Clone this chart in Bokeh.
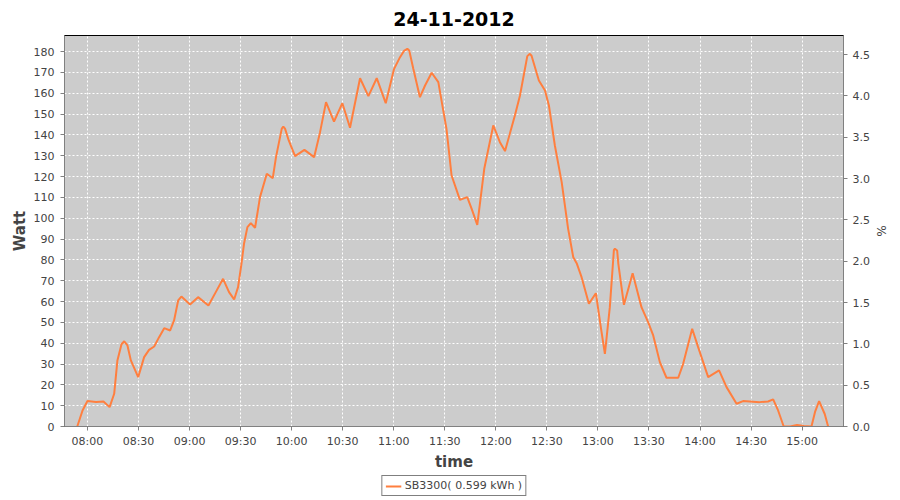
import pandas as pd
from bokeh.plotting import figure
from bokeh.layouts import column
from bokeh.models import (Range1d, LinearAxis, FixedTicker, DatetimeTickFormatter,
                          Legend, LegendItem, NumeralTickFormatter)
from bokeh.embed import file_html
from bokeh.resources import INLINE

day = "2012-11-24"
title_text = "24-11-2012"
series_label = "SB3300( 0.599 kWh )"

times = ["07:54:00", "07:57:06", "08:00:00", "08:05:00", "08:09:24", "08:13:00", "08:15:42",
         "08:17:36", "08:20:00", "08:21:36", "08:23:30", "08:25:30", "08:29:48", "08:33:18",
         "08:36:12", "08:39:12", "08:42:06", "08:45:06", "08:48:36", "08:50:54", "08:53:18",
         "08:55:12", "09:00:18", "09:05:00", "09:11:06", "09:15:24", "09:19:42", "09:23:12",
         "09:26:12", "09:28:30", "09:30:30", "09:32:00", "09:34:00", "09:36:00", "09:38:30",
         "09:41:24", "09:45:24", "09:48:54", "09:50:48", "09:54:12", "09:55:06", "09:56:06",
         "09:58:18", "10:02:00", "10:07:30", "10:13:12", "10:16:42", "10:20:12", "10:24:54",
         "10:29:48", "10:34:18", "10:40:12", "10:45:06", "10:50:00", "10:55:18", "11:00:12",
         "11:03:42", "11:06:00", "11:08:00", "11:09:06", "11:11:30", "11:15:24", "11:18:24",
         "11:22:18", "11:26:12", "11:31:00", "11:34:00", "11:38:54", "11:43:12", "11:45:48",
         "11:49:06", "11:53:12", "11:58:30", "12:02:24", "12:05:24", "12:11:12", "12:14:12",
         "12:18:30", "12:20:00", "12:21:00", "12:25:18", "12:28:54", "12:31:12", "12:34:42",
         "12:38:42", "12:42:30", "12:45:30", "12:47:30", "12:50:24", "12:54:42", "12:58:48",
         "13:01:42", "13:04:06", "13:07:00", "13:09:24", "13:10:00", "13:11:18", "13:12:00",
         "13:15:18", "13:20:24", "13:25:36", "13:29:30", "13:32:30", "13:36:24", "13:40:18",
         "13:47:12", "13:50:06", "13:55:24", "13:58:54", "14:04:48", "14:11:12", "14:15:36",
         "14:21:30", "14:25:18", "14:35:00", "14:40:00", "14:43:00", "14:45:54", "14:49:12",
         "14:53:00", "14:57:00", "15:01:00", "15:05:30", "15:07:36", "15:10:00", "15:13:18",
         "15:15:18"]

watts = [0.0, 7.7, 12.2, 11.8, 12.0, 9.3, 15.7,
         31.7, 39.5, 40.9, 38.9, 31.7, 23.7, 33.3,
         36.8, 38.4, 42.9, 47.2, 46.1, 50.9, 60.5,
         62.4, 58.6, 62.1, 58.1, 64.5, 70.9, 64.5,
         61.0, 66.9, 78.1, 87.7, 95.7, 97.6, 95.4,
         110.1, 121.3, 119.2, 129.3, 143.0, 144.0, 143.0,
         137.3, 129.8, 132.8, 129.3, 141.3, 155.7, 146.4,
         155.2, 143.4, 167.2, 158.6, 167.2, 155.2, 171.7,
         177.3, 180.3, 181.3, 180.5, 171.7, 158.1, 163.7,
         169.8, 165.3, 142.9, 120.5, 108.8, 110.1, 104.5,
         96.8, 123.7, 144.5, 136.5, 132.2, 149.3, 158.9,
         177.8, 178.9, 178.0, 166.1, 161.3, 154.1, 134.9,
         117.3, 94.9, 81.3, 78.4, 71.7, 58.9, 64.0,
         47.7, 34.9, 57.3, 84.8, 85.3, 84.5, 78.1,
         58.4, 73.6, 57.3, 50.1, 43.7, 30.9, 23.4,
         23.4, 30.1, 46.9, 38.1, 23.7, 26.9, 18.9,
         10.9, 12.2, 11.7, 12.0, 13.0, 7.7, 0.0,
         0.0, 0.7, 0.3, 0.0, 7.0, 12.2, 6.0,
         0.0]

xtick_labels = ["08:00", "08:30", "09:00", "09:30", "10:00", "10:30", "11:00", "11:30",
                "12:00", "12:30", "13:00", "13:30", "14:00", "14:30", "15:00"]
watt_ticks = [0, 10, 20, 30, 40, 50, 60, 70, 80, 90, 100, 110, 120, 130, 140, 150, 160, 170, 180]
pct_ticks = [0.0, 0.5, 1.0, 1.5, 2.0, 2.5, 3.0, 3.5, 4.0, 4.5]
x_start, x_end = "07:46:30", "15:24:20"
watt_max = 187.7
pct_max = 4.73

def ts(t):
    return pd.Timestamp(f"{day} {t}")

x = [ts(t) for t in times]
xt_ms = [ts(t).value // 10**6 for t in xtick_labels]

FONT = "DejaVu Sans"
LABEL_COL = "#444444"
AXIS_COL = "#808080"
LINE_COL = "#ff7f3f"

p = figure(frame_width=779, frame_height=391, x_axis_type="datetime",
           x_range=Range1d(ts(x_start), ts(x_end)), y_range=Range1d(0, watt_max),
           output_backend="svg", toolbar_location=None,
           min_border_left=64, min_border_right=56, min_border_top=35, min_border_bottom=44)

p.background_fill_color = "#cccccc"
p.border_fill_color = "white"
p.outline_line_color = "black"
p.outline_line_width = 1

p.title.text = title_text
p.title.align = "center"
p.title.text_font = FONT
p.title.text_font_size = "19px"
p.title.text_font_style = "bold"
p.title.text_color = "black"
p.title.standoff = 19

p.line(x, watts, line_color=LINE_COL, line_width=2)

p.extra_y_ranges = {"pct": Range1d(0, pct_max)}
raxis = LinearAxis(y_range_name="pct")
p.add_layout(raxis, "right")

for ax in [p.xaxis[0], p.yaxis[0], raxis]:
    ax.axis_line_color = AXIS_COL
    ax.major_tick_line_color = AXIS_COL
    ax.major_tick_in = 0
    ax.major_tick_out = 4
    ax.minor_tick_line_color = None
    ax.major_label_text_font = FONT
    ax.major_label_text_font_size = "11px"
    ax.major_label_text_color = LABEL_COL
    ax.axis_label_text_font = FONT
    ax.axis_label_text_color = LABEL_COL

p.xaxis.ticker = FixedTicker(ticks=xt_ms)
p.xaxis.formatter = DatetimeTickFormatter(minsec="%H:%M", minutes="%H:%M", hourmin="%H:%M",
                                          hours="%H:%M", days="%H:%M")
p.xaxis.axis_label = "time"
p.xaxis.axis_label_text_font_size = "15px"
p.xaxis.axis_label_text_font_style = "bold"
p.xaxis.major_label_standoff = 4
p.xaxis.axis_label_standoff = 2

p.yaxis[0].ticker = FixedTicker(ticks=watt_ticks)
p.yaxis[0].axis_label = "Watt"
p.yaxis[0].axis_label_text_font_size = "15px"
p.yaxis[0].axis_label_text_font_style = "bold"
p.yaxis[0].major_label_standoff = 6
p.yaxis[0].axis_label_standoff = 2

raxis.ticker = FixedTicker(ticks=pct_ticks)
raxis.formatter = NumeralTickFormatter(format="0.0")
raxis.axis_label = "%"
raxis.axis_label_text_font_size = "12px"
raxis.axis_label_text_font_style = "normal"
raxis.major_label_standoff = 5
raxis.axis_label_standoff = 1

p.xgrid.grid_line_color = "white"
p.xgrid.grid_line_dash = "2 2"
p.ygrid.grid_line_color = "white"
p.ygrid.grid_line_dash = "2 2"

# separate strip for the legend below the chart (series drawn out of its view range)
lg = figure(width=899, height=24, x_range=Range1d(0, 1), y_range=Range1d(0, 1),
            x_axis_location=None, y_axis_location=None,
            output_backend="svg", toolbar_location=None, min_border=0)
lg.outline_line_color = None
lg.xgrid.visible = False
lg.ygrid.visible = False
lg.background_fill_color = "white"
lg.border_fill_color = "white"
r2 = lg.line(x, watts, line_color=LINE_COL, line_width=2)

legend = Legend(items=[LegendItem(label=series_label, renderers=[r2])],
                orientation="horizontal", location="top_center",
                border_line_color="black", border_line_width=1,
                background_fill_color="white", background_fill_alpha=1,
                label_text_font=FONT, label_text_font_size="11px", label_text_color=LABEL_COL,
                glyph_width=16, glyph_height=10, label_standoff=4,
                padding=3, spacing=0, margin=2, label_height=12)
lg.add_layout(legend, "center")

layout = column(p, lg, spacing=0)
open("out.html", "w").write(file_html(layout, INLINE))
